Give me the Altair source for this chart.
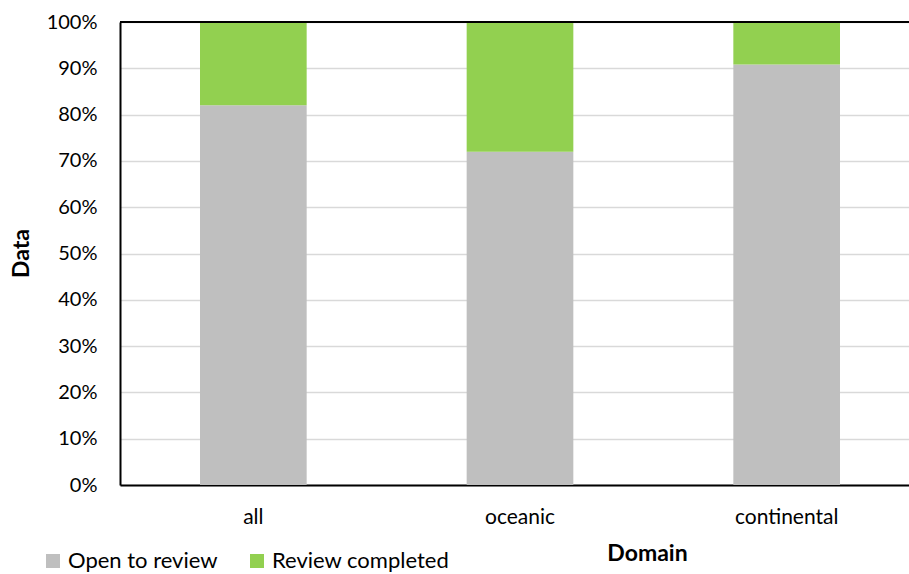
import altair as alt
import pandas as pd

domains = ["all", "oceanic", "continental"]
open_to_review = [0.82, 0.72, 0.908]
review_completed = [0.18, 0.28, 0.092]
series = ["Open to review", "Review completed"]
colors = ["#BFBFBF", "#92D050"]

rows = []
for i, d in enumerate(domains):
    rows.append({"Domain": d, "Status": series[0], "value": open_to_review[i], "ord": 0})
    rows.append({"Domain": d, "Status": series[1], "value": review_completed[i], "ord": 1})
df = pd.DataFrame(rows)

FONT = "Lato"

bars = alt.Chart(df).mark_bar().encode(
    x=alt.X("Domain:N", sort=domains,
            scale=alt.Scale(range=[0, 800], paddingInner=0.6, paddingOuter=0.3),
            axis=alt.Axis(title="Domain", labelAngle=0, ticks=False, domainColor="black",
                          domainWidth=2, labelPadding=21, labelFontSize=21, labelFont=FONT,
                          labelColor="#000000", titleFont=FONT, titleFontSize=23,
                          titleFontWeight="bold", titleColor="#000000",
                          titleX=527, titleY=68, titleBaseline="middle", titleAlign="center")),
    y=alt.Y("value:Q", stack="zero",
            scale=alt.Scale(domain=[0, 1], nice=False),
            axis=alt.Axis(title="Data", format=".0%", values=[i / 10 for i in range(11)],
                          ticks=False, domainColor="black", domainWidth=2,
                          gridColor="#D9D9D9", gridWidth=1.5, labelPadding=23,
                          labelFontSize=20, labelFont=FONT, labelColor="#000000",
                          titleFont=FONT, titleFontSize=23, titleFontWeight="bold",
                          titleColor="#000000", titleX=-99, titleY=231,
                          titleBaseline="middle")),
    color=alt.Color("Status:N", scale=alt.Scale(domain=series, range=colors),
                    legend=alt.Legend(title=None, orient="none", direction="horizontal",
                                      legendX=-78, legendY=528, symbolType="square",
                                      symbolSize=196, symbolStrokeWidth=0, symbolOpacity=1,
                                      labelFontSize=22, labelFont=FONT, labelColor="#000000",
                                      labelLimit=400, columnPadding=28, labelOffset=4,
                                      padding=0)),
    order=alt.Order("ord:Q"),
)

top = alt.Chart(pd.DataFrame({"v": [1.0]})).mark_rule(color="black", strokeWidth=2).encode(
    y=alt.Y("v:Q")
)

chart = alt.layer(bars, top).properties(
    width=789, height=463,
    autosize=alt.AutoSizeParams(type="none"),
    padding={"left": 120, "top": 22, "right": 0, "bottom": 89},
).configure_view(stroke=None).configure(background="white")

chart.save("out.html", embed_options={"renderer": "svg", "actions": False})
